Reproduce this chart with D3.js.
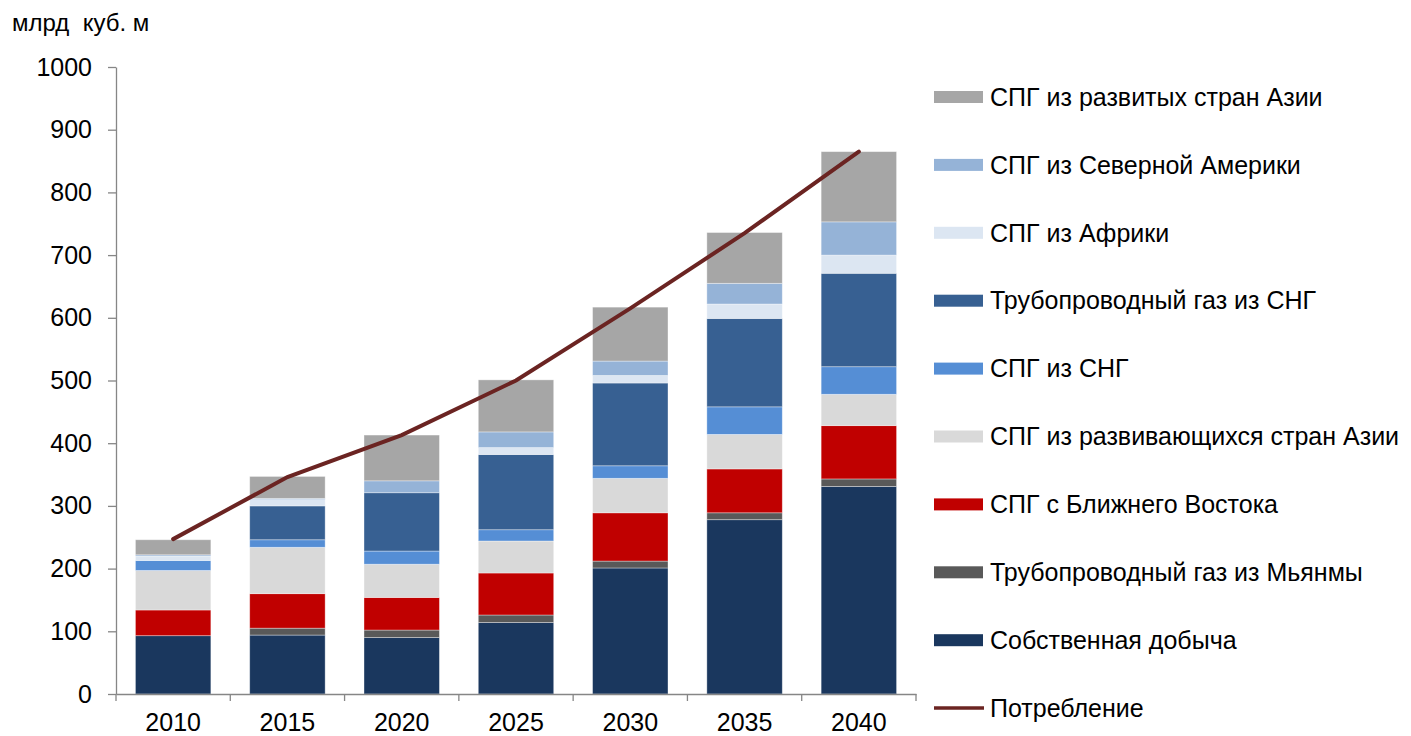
<!DOCTYPE html>
<html>
<head>
<meta charset="utf-8">
<script src="https://cdn.jsdelivr.net/npm/d3@7"></script>
<style>
  body { margin: 0; background: #fff; }
  text { font-family: "Liberation Sans", Arial, sans-serif; fill: #000; }
</style>
</head>
<body>
<svg id="chart" width="1411" height="736"></svg>
<script>
const years = ["2010", "2015", "2020", "2025", "2030", "2035", "2040"];

// stacked series, bottom to top
const domestic = [93, 94, 90, 114, 201, 278, 331];
const myanmarPipe = [0, 11, 12, 12, 11, 11, 12];
const middleEastLng = [41, 55, 52, 67, 77, 70, 85];
const developingAsiaLng = [63, 74, 53, 51, 55, 55, 50];
const cisLng = [16, 12, 21, 18, 20, 44, 44];
const cisPipe = [0, 54, 93, 120, 132, 141, 149];
const africaLng = [7, 10, 0, 11, 12, 23, 29];
const northAmericaLng = [2, 2, 19, 25, 23, 33, 53];
const developedAsiaLng = [24, 35, 73, 83, 86, 81, 112];

const consumption = [247, 346, 413, 500, 615, 735, 865];

const yTicks = [0, 100, 200, 300, 400, 500, 600, 700, 800, 900, 1000];

const series = [
  { name: "Собственная добыча", values: domestic, color: "#1A375E" },
  { name: "Трубопроводный газ из Мьянмы", values: myanmarPipe, color: "#595959" },
  { name: "СПГ с Ближнего Востока", values: middleEastLng, color: "#C00000" },
  { name: "СПГ из развивающихся стран Азии", values: developingAsiaLng, color: "#D9D9D9" },
  { name: "СПГ из СНГ", values: cisLng, color: "#558ED5" },
  { name: "Трубопроводный газ из СНГ", values: cisPipe, color: "#376092" },
  { name: "СПГ из Африки", values: africaLng, color: "#DCE6F2" },
  { name: "СПГ из Северной Америки", values: northAmericaLng, color: "#95B3D7" },
  { name: "СПГ из развитых стран Азии", values: developedAsiaLng, color: "#A6A6A6" }
];
const lineName = "Потребление";
const lineColor = "#6B2422";

const svg = d3.select("#chart");
const margin = { top: 67, left: 116 };
const plotW = 800, plotH = 627;
const fontSize = "25px";

const g = svg.append("g").attr("transform", `translate(${margin.left},${margin.top})`);

const x = d3.scaleBand().domain(years).range([0, plotW]).paddingInner(0.34).paddingOuter(0.17);
const y = d3.scaleLinear().domain([0, 1000]).range([plotH, 0]);

const rows = years.map((yr, i) => {
  const r = { year: yr };
  series.forEach((s) => (r[s.name] = s.values[i]));
  return r;
});
const stacked = d3.stack().keys(series.map((s) => s.name))(rows);

g.selectAll("g.layer")
  .data(stacked)
  .join("g")
  .attr("class", "layer")
  .attr("fill", (d, i) => series[i].color)
  .selectAll("rect")
  .data((d) => d)
  .join("rect")
  .attr("x", (d) => x(d.data.year))
  .attr("width", x.bandwidth())
  .attr("y", (d) => y(d[1]))
  .attr("height", (d) => y(d[0]) - y(d[1]))
  .attr("stroke", "#fff")
  .attr("stroke-opacity", 0.45)
  .attr("stroke-width", 0.8);

// axes
const axisColor = "#868686";
const yAxis = g.append("g")
  .call(d3.axisLeft(y).tickValues(yTicks).tickFormat(d3.format("d"))
    .tickSize(8).tickPadding(16).tickSizeOuter(0));
yAxis.select(".domain").attr("stroke", axisColor).attr("stroke-width", 1.3);
yAxis.selectAll(".tick line").attr("stroke", axisColor).attr("stroke-width", 1.3);
yAxis.selectAll(".tick text").style("font-size", fontSize).attr("fill", "#000");

const xAxis = g.append("g")
  .attr("transform", `translate(0,${plotH})`)
  .call(d3.axisBottom(x).tickSize(0).tickPadding(19).tickSizeOuter(0));
xAxis.select(".domain").attr("stroke", axisColor).attr("stroke-width", 1.3);
xAxis.selectAll(".tick text").style("font-size", fontSize).attr("fill", "#000");

// category separators
const step = x.step();
g.append("g")
  .selectAll("line")
  .data(d3.range(years.length + 1))
  .join("line")
  .attr("x1", (i) => i * step)
  .attr("x2", (i) => i * step)
  .attr("y1", plotH)
  .attr("y2", plotH + 7)
  .attr("stroke", axisColor)
  .attr("stroke-width", 1.3);

// consumption line
const line = d3.line()
  .x((d, i) => x(years[i]) + x.bandwidth() / 2)
  .y((d) => y(d));
g.append("path")
  .datum(consumption)
  .attr("fill", "none")
  .attr("stroke", lineColor)
  .attr("stroke-width", 4)
  .attr("stroke-linecap", "round")
  .attr("d", line);

// unit label
svg.append("text")
  .attr("x", 12)
  .attr("y", 31)
  .style("font-size", "24px")
  .style("white-space", "pre")
  .text("млрд  куб. м");

// legend
const legendItems = series.slice().reverse().map((s) => ({ name: s.name, color: s.color, type: "rect" }))
  .concat([{ name: lineName, color: lineColor, type: "line" }]);
const legend = svg.append("g").attr("transform", "translate(934,97)");
const item = legend.selectAll("g")
  .data(legendItems)
  .join("g")
  .attr("transform", (d, i) => `translate(0,${i * 67.9})`);
item.filter((d) => d.type === "rect")
  .append("rect")
  .attr("x", 0).attr("y", -6).attr("width", 49).attr("height", 12)
  .attr("fill", (d) => d.color);
item.filter((d) => d.type === "line")
  .append("line")
  .attr("x1", 0).attr("x2", 50).attr("y1", 0).attr("y2", 0)
  .attr("stroke", (d) => d.color).attr("stroke-width", 3.5);
item.append("text")
  .attr("x", 56)
  .attr("dy", "0.35em")
  .style("font-size", fontSize)
  .text((d) => d.name);
</script>
</body>
</html>
